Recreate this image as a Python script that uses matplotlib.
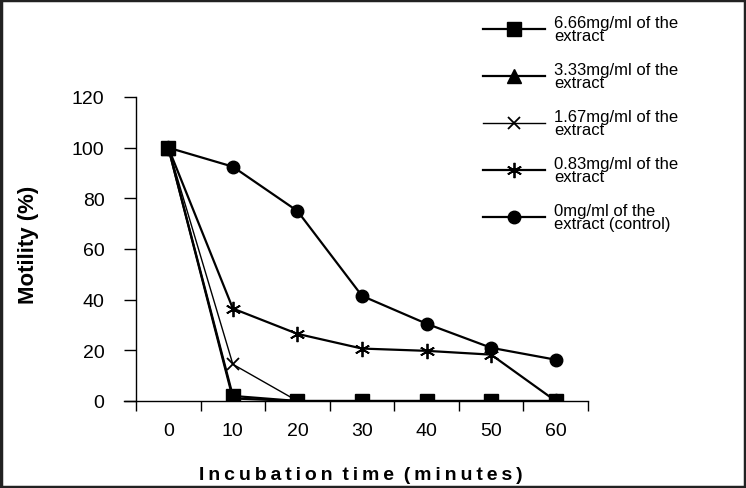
import matplotlib
matplotlib.use("Agg")
import matplotlib.pyplot as plt
from matplotlib.patches import Rectangle
from matplotlib.ticker import FixedLocator

plt.rcParams['font.family'] = ['Liberation Sans', 'DejaVu Sans']

times = ["0", "10", "20", "30", "40", "50", "60"]
s666 = [100, 2, 0, 0, 0, 0, 0]
s333 = [100, 1, 0, 0, 0, 0, 0]
s167 = [100, 14.5, 0, 0, 0, 0, 0]
s083 = [100, 36.5, 26.5, 20.7, 19.8, 18.3, 0]
s000 = [100, 92.5, 75, 41.5, 30.5, 21, 16.3]
labels = ["6.66mg/ml of the\nextract", "3.33mg/ml of the\nextract",
          "1.67mg/ml of the\nextract", "0.83mg/ml of the\nextract",
          "0mg/ml of the\nextract (control)"]
yticks = [0, 20, 40, 60, 80, 100, 120]

fig = plt.figure(figsize=(7.46, 4.89), dpi=100)
ax = fig.add_axes([136/746, 1-402/489, 452/746, 304/489])
for side in ['top', 'right']:
    ax.spines[side].set_visible(False)
ax.spines['left'].set_linewidth(1)
ax.spines['bottom'].set_linewidth(1)
ax.spines['bottom'].set_position(('data', 0))

x = list(range(len(times)))

h5, = ax.plot(x, s000, color='black', lw=1.6, marker='o', ms=9, label=labels[4])
h4, = ax.plot(x, s083, color='black', lw=1.6, marker=(6, 2, 0), ms=11, mew=1.3, label=labels[3])
h3, = ax.plot(x, s167, color='black', lw=1.0, marker='x', ms=9, mew=1.3, label=labels[2])
h2, = ax.plot(x, s333, color='black', lw=1.6, marker='^', ms=10, label=labels[1])
h1, = ax.plot(x, s666, color='black', lw=1.6, marker='s', ms=9.5, label=labels[0])

ax.set_xlim(-0.5, len(times) - 0.5)
ax.set_ylim(0, 120)
ax.set_yticks(yticks)
ax.set_yticklabels([str(v) for v in yticks])
ax.set_xticks(x)
ax.set_xticklabels(times)
ax.xaxis.set_minor_locator(FixedLocator([i - 0.5 for i in range(len(times) + 1)]))
ax.tick_params(axis='x', which='major', length=0, pad=15, labelsize=14)
ax.tick_params(axis='x', which='minor', length=7, width=1, direction='out')
ax.tick_params(axis='y', length=8.6, width=1, direction='out', pad=14, labelsize=14)
ax.spines['bottom'].set_bounds(-0.5 - 12/64.6, len(times) - 0.5)

sp = "\u2009"
ax.set_xlabel(sp.join("Incubation") + "\u2002" + sp.join("time") + "\u2002" + sp.join("(minutes)"),
              fontsize=14, fontweight='bold')
ax.xaxis.set_label_coords(0.498, -0.215)
ax.set_ylabel("Motility (%)", fontsize=16, fontweight='bold')
ax.yaxis.set_label_coords(-0.215, 0.516)

leg = fig.legend([h1, h2, h3, h4, h5], labels, loc='upper left',
                 bbox_to_anchor=(468/746, 1 - 1/489), frameon=False, fontsize=12,
                 handlelength=3.7, handletextpad=0.55, labelspacing=1.12)
for t in leg.get_texts():
    t.set_linespacing(0.86)

fig.patches.append(Rectangle((0.002, 0.002), 0.996, 0.996, transform=fig.transFigure,
                             fill=False, edgecolor='#222222', lw=2.5))

fig.savefig("out.png", dpi=100)
